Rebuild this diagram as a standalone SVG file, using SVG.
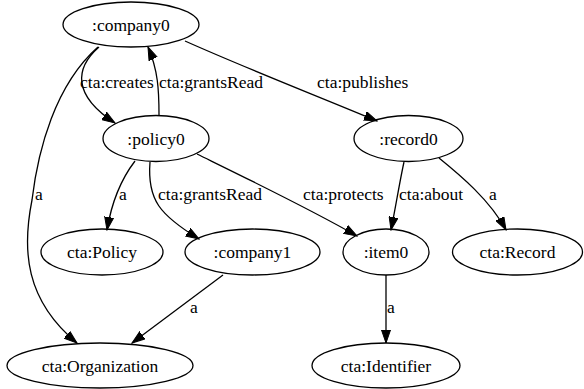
<svg xmlns="http://www.w3.org/2000/svg" width="584" height="389" viewBox="0 0 584 389">
<style>
.n ellipse{fill:none;stroke:#000;stroke-width:1.3}
.e path{fill:none;stroke:#000;stroke-width:1.3;marker-end:url(#ah)}
.t{font-family:"Liberation Serif","Times New Roman",serif;font-size:17.5px;fill:#000}
.m{text-anchor:middle}
</style>
<defs>
<marker id="ah" markerUnits="userSpaceOnUse" markerWidth="14" markerHeight="10" refX="13" refY="4.5" orient="auto" viewBox="0 0 14 9">
<path d="M0,0 L13,4.5 L0,9 z" fill="#000" stroke="#000" stroke-width="1"/>
</marker>
</defs>
<rect width="584" height="389" fill="#fff"/>
<g id="edges" class="e">
<path d="M99,47 C75,68 72,95 115,123"/>
<path d="M159,115 C159,90 158,70 148,47"/>
<path d="M185,41 C250,70 320,97 377,121"/>
<path d="M98,47 C55,85 38,150 32,200 C22,250 25,300 77,343"/>
<path d="M135,161 C122,178 112,200 107,230"/>
<path d="M150,162 C147,200 160,215 199,239"/>
<path d="M197,154 C250,180 310,209 357,236"/>
<path d="M404,162 C400,180 396,205 391,230"/>
<path d="M439,158 C460,175 490,200 506,230"/>
<path d="M223,275 L132,343"/>
<path d="M386,275 L386,343"/>
<text class="t" x="80" y="87.5">cta:creates</text>
<text class="t" x="159" y="87.5">cta:grantsRead</text>
<text class="t" x="317" y="87.5">cta:publishes</text>
<text class="t" x="35" y="200">a</text>
<text class="t" x="119" y="200">a</text>
<text class="t" x="158" y="200">cta:grantsRead</text>
<text class="t" x="303" y="200">cta:protects</text>
<text class="t" x="399" y="200">cta:about</text>
<text class="t" x="489" y="200">a</text>
<text class="t" x="190" y="313">a</text>
<text class="t" x="387" y="313">a</text>
</g>
<g id="company0" class="n"><ellipse cx="131" cy="24.5" rx="68" ry="22.5"/><text class="t m" x="131" y="30.5">:company0</text></g>
<g id="policy0" class="n"><ellipse cx="156" cy="138.5" rx="53" ry="23"/><text class="t m" x="156" y="144.5">:policy0</text></g>
<g id="record0" class="n"><ellipse cx="408.5" cy="138.5" rx="54.5" ry="23"/><text class="t m" x="408.5" y="144.5">:record0</text></g>
<g id="ctaPolicy" class="n"><ellipse cx="102" cy="252" rx="61" ry="23"/><text class="t m" x="102" y="258">cta:Policy</text></g>
<g id="company1" class="n"><ellipse cx="252.5" cy="252" rx="67.5" ry="23"/><text class="t m" x="252.5" y="258">:company1</text></g>
<g id="item0" class="n"><ellipse cx="386" cy="252" rx="43" ry="23"/><text class="t m" x="386" y="258">:item0</text></g>
<g id="ctaRecord" class="n"><ellipse cx="517.5" cy="252" rx="65" ry="23"/><text class="t m" x="517.5" y="258">cta:Record</text></g>
<g id="ctaOrganization" class="n"><ellipse cx="100" cy="365.5" rx="93" ry="22.5"/><text class="t m" x="100" y="371.5">cta:Organization</text></g>
<g id="ctaIdentifier" class="n"><ellipse cx="386" cy="365.5" rx="74" ry="22.5"/><text class="t m" x="386" y="371.5">cta:Identifier</text></g>
</svg>
